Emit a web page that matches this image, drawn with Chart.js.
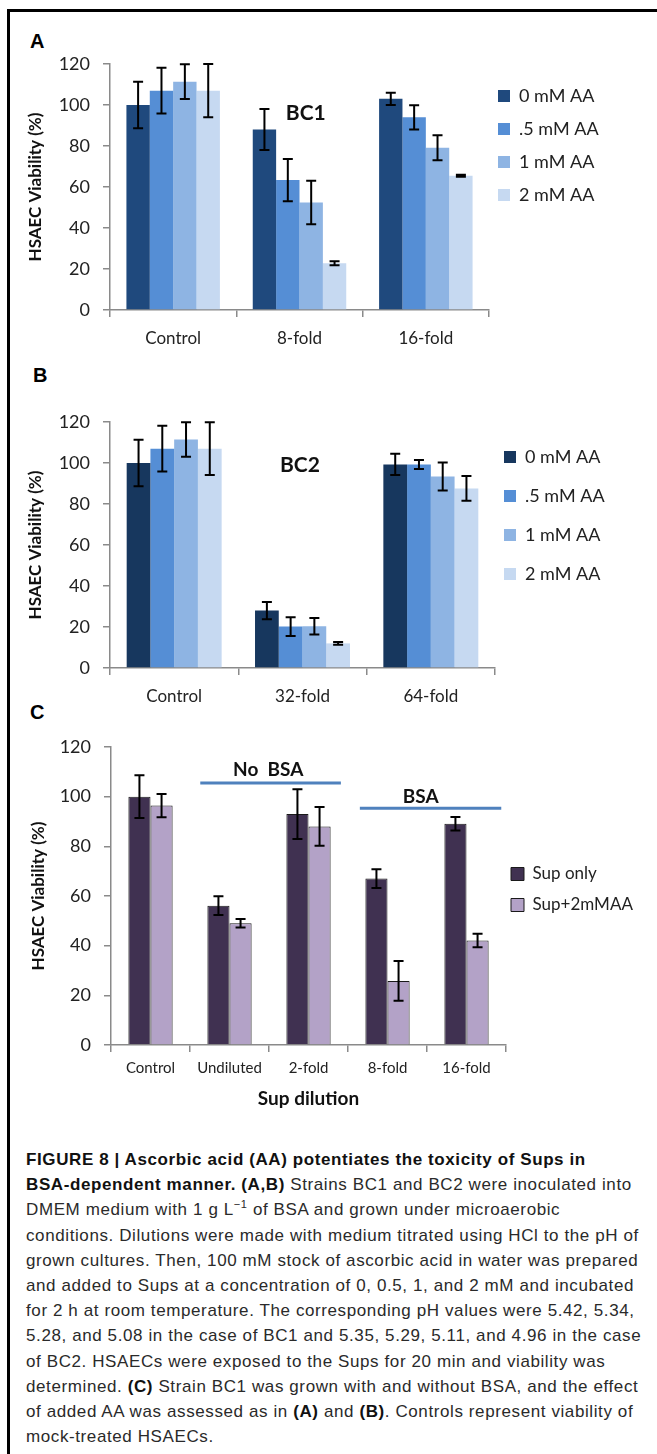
<!DOCTYPE html>
<html>
<head>
<meta charset="utf-8">
<script src="https://cdn.jsdelivr.net/npm/chart.js@4.4.1/dist/chart.umd.min.js"></script>
<style>
  body { margin: 0; background: #fff; width: 657px; height: 1454px; position: relative; overflow: hidden; }
  #frame { position: absolute; left: 7px; top: 9px; width: 700px; height: 1500px; border-left: 3px solid #000; border-top: 3px solid #000; }
  .tag { position: absolute; font: bold 20px "Liberation Sans", Arial, sans-serif; color: #000; }
  canvas { position: absolute; left: 0; }
  #caption { position: absolute; left: 26px; top: 1147px; font: 17px/25.2px "Liberation Sans", Arial, sans-serif; letter-spacing: 0.6px; color: #2a2a2a; white-space: nowrap; }
  #caption b { color: #111; }
</style>
</head>
<body>
<div id="frame"></div>
<div class="tag" style="left:30px;top:30px">A</div>
<div class="tag" style="left:33px;top:364px">B</div>
<div class="tag" style="left:30px;top:701px">C</div>
<canvas id="chartA" width="657" height="300" style="top:50px"></canvas>
<canvas id="chartB" width="657" height="358" style="top:350px"></canvas>
<canvas id="chartC" width="657" height="405" style="top:715px"></canvas>
<div id="caption">
<b>FIGURE 8 | Ascorbic acid (AA) potentiates the toxicity of Sups in</b><br>
<b>BSA-dependent manner. (A,B)</b> Strains BC1 and BC2 were inoculated into<br>
DMEM medium with 1 g L<sup style="font-size:11px;line-height:0">−1</sup> of BSA and grown under microaerobic<br>
conditions. Dilutions were made with medium titrated using HCl to the pH of<br>
grown cultures. Then, 100 mM stock of ascorbic acid in water was prepared<br>
and added to Sups at a concentration of 0, 0.5, 1, and 2 mM and incubated<br>
for 2 h at room temperature. The corresponding pH values were 5.42, 5.34,<br>
5.28, and 5.08 in the case of BC1 and 5.35, 5.29, 5.11, and 4.96 in the case<br>
of BC2. HSAECs were exposed to the Sups for 20 min and viability was<br>
determined. <b>(C)</b> Strain BC1 was grown with and without BSA, and the effect<br>
of added AA was assessed as in <b>(A)</b> and <b>(B)</b>. Controls represent viability of<br>
mock-treated HSAECs.
</div>
<script>
/* --- Data ---------------------------------------------------------------- */
const aLabels = ['Control', '8-fold', '16-fold'];
const a0  = [100, 88, 103],     a0Err  = [11.4, 10, 3];
const a05 = [107, 63.4, 94],    a05Err = [11.2, 10.3, 5.9];
const a1  = [111.4, 52.4, 79.2], a1Err = [8.5, 10.6, 6.1];
const a2  = [107, 22.8, 65.5],  a2Err  = [13, 1, 0.5];

const bLabels = ['Control', '32-fold', '64-fold'];
const b0  = [100, 28, 99.3],    b0Err  = [11.4, 4.2, 5.2];
const b05 = [107, 20.2, 99.3],  b05Err = [11.2, 4.6, 2.2];
const b1  = [111.5, 20.4, 93.4], b1Err = [8.4, 4, 6.8];
const b2  = [107, 12, 87.6],    b2Err  = [12.9, 0.7, 6];

const cLabels = ['Control', 'Undiluted', '2-fold', '8-fold', '16-fold'];
const supOnly = [100, 56.1, 93, 67, 89.1],   supOnlyErr = [8.6, 3.8, 10, 3.8, 2.7];
const supAA   = [96.4, 49, 88, 25.8, 42.1],  supAAErr   = [4.7, 1.7, 7.8, 8, 2.7];

const aaNames = ['0 mM AA', '.5 mM AA', '1 mM AA', '2 mM AA'];
const yTicks = { min: 0, max: 120, step: 20 };

/* --- Plugins ------------------------------------------------------------- */
// move the legend block to a fixed spot next to the plot
const legendAt = {
  id: 'legendAt',
  afterLayout(chart, args, o) {
    const lg = chart.legend;
    if (!lg || o.x == null) return;
    const dy = (o.y - o.pad - o.fs / 2) - lg.top;
    lg.left = o.x - o.pad;
    lg.right = chart.width;
    lg.width = lg.right - lg.left;
    lg.top += dy;  lg.bottom += dy;
  }
};

const errorBars = {
  id: 'errorBars',
  afterDatasetsDraw(chart, args, o) {
    const { ctx } = chart, y = chart.scales.y;
    ctx.save();
    ctx.strokeStyle = '#000';
    ctx.lineWidth = o.width;
    chart.data.datasets.forEach((ds, i) => {
      chart.getDatasetMeta(i).data.forEach((bar, j) => {
        const v = ds.data[j], e = ds.errors[j];
        const t = y.getPixelForValue(v + e), b = y.getPixelForValue(v - e), c = o.cap / 2;
        ctx.beginPath();
        ctx.moveTo(bar.x, t); ctx.lineTo(bar.x, b);
        ctx.moveTo(bar.x - c, t); ctx.lineTo(bar.x + c, t);
        ctx.moveTo(bar.x - c, b); ctx.lineTo(bar.x + c, b);
        ctx.stroke();
      });
    });
    ctx.restore();
  }
};

const notes = {
  id: 'notes',
  afterDatasetsDraw(chart, args, o) {
    const { ctx } = chart, x = chart.scales.x, y = chart.scales.y;
    ctx.save();
    (o.lines || []).forEach(l => {
      ctx.strokeStyle = l.color; ctx.lineWidth = l.width;
      ctx.beginPath();
      ctx.moveTo(x.getPixelForValue(l.from), y.getPixelForValue(l.value));
      ctx.lineTo(x.getPixelForValue(l.to), y.getPixelForValue(l.value));
      ctx.stroke();
    });
    (o.texts || []).forEach(t => {
      ctx.font = t.font; ctx.fillStyle = '#111';
      ctx.textAlign = 'center'; ctx.textBaseline = 'middle';
      ctx.fillText(t.text, x.getPixelForValue(t.at), y.getPixelForValue(t.value));
    });
    ctx.restore();
  }
};

/* --- Helpers ------------------------------------------------------------- */
const AXIS = '#8a8a8a';
const FONT = 'Lato, "Open Sans", sans-serif';

function yAxis(width, titlePad) {
  return {
    min: yTicks.min, max: yTicks.max,
    ticks: { stepSize: yTicks.step, color: '#222', padding: 13, font: { family: FONT, size: 18 } },
    grid: { drawOnChartArea: false, color: AXIS, lineWidth: 1.5, tickLength: 7 },
    border: { color: AXIS, width: 1.5 },
    title: { display: true, text: 'HSAEC Viability (%)', color: '#111',
             font: { family: FONT, size: 17, weight: 'bold' }, padding: { top: titlePad, bottom: 0 } },
    afterFit: s => { s.width = width; s.paddingTop = 0; s.paddingBottom = 0; }
  };
}

function xAxis(height, size, pad, title) {
  const ax = {
    ticks: { color: '#222', padding: pad, font: { family: FONT, size: size } },
    grid: { drawOnChartArea: false, offset: true, color: AXIS, lineWidth: 1.5, tickLength: 7 },
    border: { color: AXIS, width: 1.5 },
    afterFit: s => { s.height = height; }
  };
  if (title) ax.title = title;
  return ax;
}

function legendOpts(fs, pad, box) {
  return {
    position: 'right', align: 'start', maxWidth: 100,
    labels: { color: '#222', font: { family: FONT, size: fs }, padding: pad, boxWidth: box, boxHeight: box }
  };
}

function aaSets(vals, errs, colors) {
  return vals.map((v, i) => ({
    label: aaNames[i], data: v, errors: errs[i],
    backgroundColor: colors[i], borderWidth: 0,
    categoryPercentage: 0.74, barPercentage: 1
  }));
}

/* --- Panel A ------------------------------------------------------------- */
new Chart(document.getElementById('chartA'), {
  type: 'bar',
  data: { labels: aLabels,
          datasets: aaSets([a0, a05, a1, a2], [a0Err, a05Err, a1Err, a2Err],
                           ['#1F497D', '#558ED5', '#8EB4E3', '#C6D9F1']) },
  options: {
    responsive: false, animation: false,
    layout: { padding: { top: 14, left: 0, right: 68, bottom: 0 } },
    scales: { x: xAxis(40, 17, 11), y: yAxis(110, 25) },
    plugins: {
      legend: legendOpts(18, 15, 12),
      legendAt: { x: 498, y: 46, pad: 15, fs: 18 },
      tooltip: { enabled: false },
      errorBars: { width: 2, cap: 10 },
      notes: { texts: [{ text: 'BC1', at: 1.05, value: 96, font: 'bold 21px ' + FONT }] }
    }
  },
  plugins: [legendAt, errorBars, notes]
});

/* --- Panel B ------------------------------------------------------------- */
new Chart(document.getElementById('chartB'), {
  type: 'bar',
  data: { labels: bLabels,
          datasets: aaSets([b0, b05, b1, b2], [b0Err, b05Err, b1Err, b2Err],
                           ['#17375E', '#558ED5', '#8EB4E3', '#C6D9F1']) },
  options: {
    responsive: false, animation: false,
    layout: { padding: { top: 72, left: 0, right: 62, bottom: 0 } },
    scales: { x: xAxis(40, 17, 11), y: yAxis(110, 25) },
    plugins: {
      legend: legendOpts(18, 21, 12),
      legendAt: { x: 504, y: 107, pad: 21, fs: 18 },
      tooltip: { enabled: false },
      errorBars: { width: 2, cap: 10 },
      notes: { texts: [{ text: 'BC2', at: 0.98, value: 99, font: 'bold 21px ' + FONT }] }
    }
  },
  plugins: [legendAt, errorBars, notes]
});

/* --- Panel C ------------------------------------------------------------- */
new Chart(document.getElementById('chartC'), {
  type: 'bar',
  data: { labels: cLabels,
          datasets: [
            { label: 'Sup only', data: supOnly, errors: supOnlyErr, backgroundColor: '#403151',
              borderColor: '#1a1a1a', borderWidth: 1, categoryPercentage: 0.56, barPercentage: 1 },
            { label: 'Sup+2mMAA', data: supAA, errors: supAAErr, backgroundColor: '#B3A2C7',
              borderColor: '#1a1a1a', borderWidth: 1, categoryPercentage: 0.56, barPercentage: 1 }
          ] },
  options: {
    responsive: false, animation: false,
    layout: { padding: { top: 32, left: 0, right: 51, bottom: 0 } },
    scales: {
      x: xAxis(75, 15, 7, { display: true, text: 'Sup dilution', color: '#111',
                            font: { family: FONT, size: 19, weight: 'bold' }, padding: { top: 0, bottom: 10 } }),
      y: yAxis(111, 28)
    },
    plugins: {
      legend: legendOpts(17, 14, 13),
      legendAt: { x: 511, y: 159, pad: 14, fs: 17 },
      tooltip: { enabled: false },
      errorBars: { width: 2, cap: 10 },
      notes: {
        lines: [
          { from: 0.63, to: 2.41, value: 105.5, color: '#4F81BD', width: 3 },
          { from: 2.65, to: 4.44, value: 95.3, color: '#4F81BD', width: 3 }
        ],
        texts: [
          { text: 'No  BSA', at: 1.49, value: 110.7, font: 'bold 19px ' + FONT },
          { text: 'BSA', at: 3.42, value: 99.9, font: 'bold 19px ' + FONT }
        ]
      }
    }
  },
  plugins: [legendAt, errorBars, notes]
});
</script>
</body>
</html>
